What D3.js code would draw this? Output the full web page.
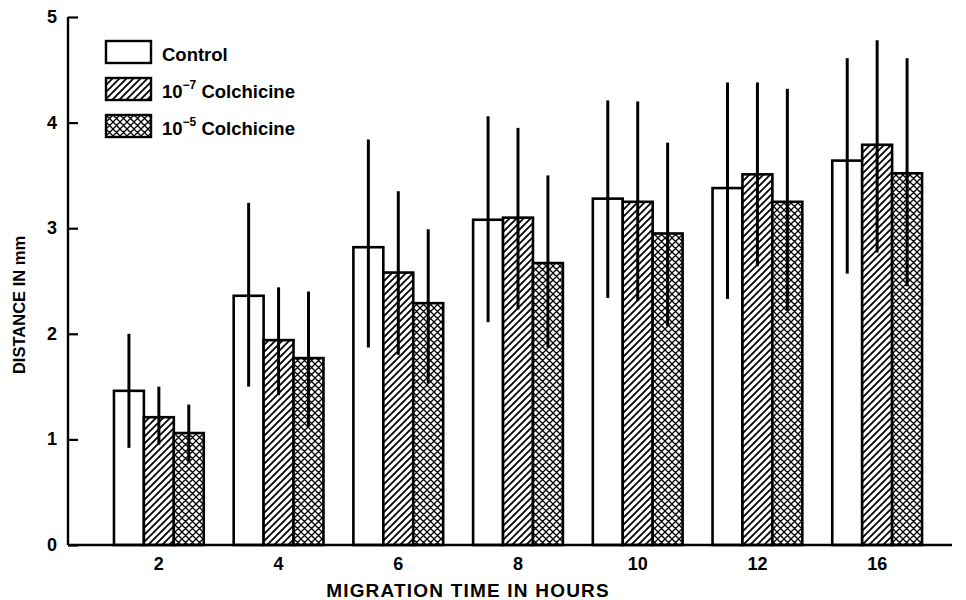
<!DOCTYPE html>
<html><head><meta charset="utf-8">
<script src="https://cdn.jsdelivr.net/npm/d3@7"></script>
<style>body{margin:0;background:#fff}svg{display:block}text{font-family:"Liberation Sans",Arial,sans-serif;font-weight:bold;fill:#000}</style>
</head><body><svg id="c" width="966" height="600"></svg>
<script>
const categories = ["2","4","6","8","10","12","16"];
const seriesNames = ["control","colch7","colch5"];
const control   = [1.46, 2.36, 2.82, 3.08, 3.28, 3.38, 3.64];
const controlHi = [2.00, 3.24, 3.84, 4.06, 4.21, 4.38, 4.61];
const controlLo = [0.92, 1.50, 1.87, 2.11, 2.34, 2.33, 2.57];
const colch7    = [1.21, 1.94, 2.58, 3.10, 3.25, 3.51, 3.79];
const colch7Hi  = [1.50, 2.44, 3.35, 3.95, 4.20, 4.38, 4.78];
const colch7Lo  = [0.95, 1.42, 1.80, 2.23, 2.31, 2.64, 2.77];
const colch5    = [1.06, 1.77, 2.29, 2.67, 2.95, 3.25, 3.52];
const colch5Hi  = [1.33, 2.40, 2.99, 3.50, 3.81, 4.32, 4.61];
const colch5Lo  = [0.78, 1.12, 1.53, 1.87, 2.07, 2.22, 2.45];
const yTicks = [0,1,2,3,4,5];
const xTitle = "MIGRATION TIME IN HOURS";
const yTitle = "DISTANCE IN mm";

const svg = d3.select("#c");
const defs = svg.append("defs");
const h = defs.append("pattern").attr("id","hatch").attr("patternUnits","userSpaceOnUse").attr("width",7).attr("height",7);
h.append("rect").attr("width",7).attr("height",7).attr("fill","#fff");
h.append("path").attr("d","M-1,8 L8,-1 M-4,4 L4,-4 M3,11 L11,3").attr("stroke","#000").attr("stroke-width",1.8);
const x2 = defs.append("pattern").attr("id","cross").attr("patternUnits","userSpaceOnUse").attr("width",7).attr("height",7);
x2.append("rect").attr("width",7).attr("height",7).attr("fill","#fff");
x2.append("path").attr("d","M-1,8 L8,-1 M-4,4 L4,-4 M3,11 L11,3 M-1,-1 L8,8 M-4,3 L4,11 M3,-4 L11,4").attr("stroke","#000").attr("stroke-width",1.3);
const fills = {control:"#fff", colch7:"url(#hatch)", colch5:"url(#cross)"};

const y = d3.scaleLinear().domain([0,5]).range([545,17]);
const x = d3.scaleBand().domain(categories).range([99,937]).paddingInner(0.25).paddingOuter(0.125);
const xs = d3.scaleBand().domain(seriesNames).range([0,x.bandwidth()]);

const data = {control:[control,controlHi,controlLo], colch7:[colch7,colch7Hi,colch7Lo], colch5:[colch5,colch5Hi,colch5Lo]};
const rows = [];
categories.forEach((c,i)=>seriesNames.forEach(s=>rows.push({c,s,v:data[s][0][i],hi:data[s][1][i],lo:data[s][2][i]})));

svg.append("g").selectAll("rect").data(rows).join("rect")
  .attr("x",d=>x(d.c)+xs(d.s)).attr("width",xs.bandwidth())
  .attr("y",d=>y(d.v)).attr("height",d=>y(0)-y(d.v))
  .attr("fill",d=>fills[d.s]).attr("stroke","#000").attr("stroke-width",2.6);

svg.append("g").selectAll("line").data(rows).join("line")
  .attr("x1",d=>x(d.c)+xs(d.s)+xs.bandwidth()/2).attr("x2",d=>x(d.c)+xs(d.s)+xs.bandwidth()/2)
  .attr("y1",d=>y(d.hi)).attr("y2",d=>y(d.lo))
  .attr("stroke","#000").attr("stroke-width",3);

// y axis
const ya = svg.append("g").attr("transform","translate(68,0)")
  .call(d3.axisRight(y).tickValues(yTicks).tickSize(10).tickFormat(""));
ya.select(".domain").attr("d",`M0,${y(5)}V${y(0)}`).attr("stroke-width",2.4);
ya.selectAll(".tick line").attr("stroke-width",2.2);
svg.append("g").selectAll("text").data(yTicks).join("text")
  .attr("x",57).attr("y",d=>y(d)+6).attr("text-anchor","end").attr("font-size",18).text(d=>d);

// x axis
const xa = svg.append("g").attr("transform",`translate(0,${y(0)})`)
  .call(d3.axisBottom(x).tickSize(0).tickPadding(12));
xa.select(".domain").attr("d","M68,0H952").attr("stroke-width",2.4);
xa.selectAll("text").attr("font-size",18).attr("font-family",null).attr("dy","0.71em");

svg.append("text").attr("x",468).attr("y",597).attr("text-anchor","middle").attr("font-size",19).attr("letter-spacing",1.2).text(xTitle);
svg.append("text").attr("transform","translate(25,305) rotate(-90)").attr("text-anchor","middle").attr("font-size",16.5).text(yTitle);

// legend
const legendLabels = [["Control",null],["10","\u22127"],["10","\u22125"]];
const lg = svg.append("g").selectAll("g").data(seriesNames).join("g")
  .attr("transform",(d,i)=>`translate(106,${41+37*i})`);
lg.append("rect").attr("width",45).attr("height",22).attr("fill",d=>fills[d]).attr("stroke","#000").attr("stroke-width",2.4);
lg.append("text").attr("x",56).attr("y",20).attr("font-size",18.5).each(function(d,i){
  const t = d3.select(this); const L = legendLabels[i];
  if(!L[1]){t.text(L[0]);return;}
  t.append("tspan").text(L[0]);
  t.append("tspan").attr("font-size",12).attr("dy",-9).text(L[1]);
  t.append("tspan").attr("dy",9).text(" Colchicine");
});
</script></body></html>
